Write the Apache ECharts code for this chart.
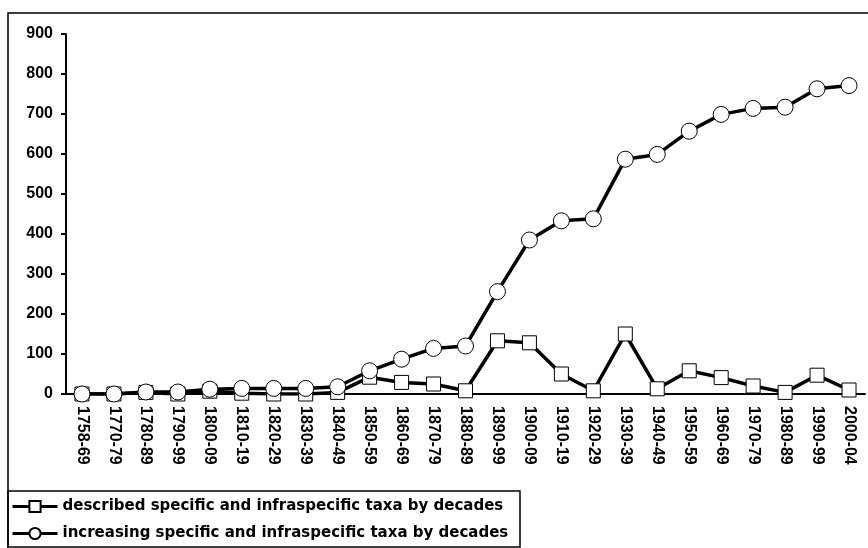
<!DOCTYPE html>
<html>
<head>
<meta charset="utf-8">
<script src="https://cdn.jsdelivr.net/npm/echarts@6/dist/echarts.min.js"></script>
<style>
    html, body { margin: 0; padding: 0; background: #fff; }
    #chart { width: 868px; height: 548px; }
</style>
</head>
<body>
<div id="chart"></div>
<script>
const decades = ['1758-69', '1770-79', '1780-89', '1790-99', '1800-09', '1810-19', '1820-29', '1830-39', '1840-49',
    '1850-59', '1860-69', '1870-79', '1880-89', '1890-99', '1900-09', '1910-19', '1920-29', '1930-39',
    '1940-49', '1950-59', '1960-69', '1970-79', '1980-89', '1990-99', '2000-04']

const described = [0, 0, 4, 0, 7, 2, 0, 0, 4, 42, 29, 25, 8, 133, 128, 50, 8, 150, 13, 58, 41, 20, 4, 47, 10]
const increasing = [0, 0, 5, 5, 12, 14, 14, 14, 18, 58, 87, 114, 120, 256, 385, 433, 438, 587, 599, 657, 699, 714, 717, 763, 771]

const seriesNames = [
    'described specific and infraspecific taxa by decades',
    'increasing specific and infraspecific taxa by decades'
]

const font = 'Liberation Sans, Arial, sans-serif'

let chart = echarts.init(document.getElementById('chart'))

function lineSeries(name, data, symbol, size) {
    return {
        name: name,
        type: 'line',
        data: data,
        symbol: symbol,
        symbolSize: size,
        showAllSymbol: true,
        lineStyle: { color: '#000', width: 3.5 },
        itemStyle: { color: '#fff', borderColor: '#000', borderWidth: 1 },
        emphasis: { disabled: true },
        animation: false
    }
}

let chartOpt = {
    backgroundColor: '#fff',
    graphic: [
        {
            type: 'rect',
            shape: { x: 8, y: 13, width: 900, height: 600 },
            style: { fill: 'none', stroke: '#000', lineWidth: 1.5 },
            silent: true
        },
        {
            type: 'rect',
            shape: { x: 8, y: 491, width: 512, height: 56 },
            style: { fill: 'none', stroke: '#000', lineWidth: 1.5 },
            silent: true
        }
    ],
    grid: {
        left: 66,
        right: 3,
        top: 34,
        bottom: 154
    },
    legend: {
        orient: 'vertical',
        left: 11,
        top: 499,
        padding: 0,
        itemWidth: 45,
        itemHeight: 14,
        itemGap: 12,
        data: seriesNames,
        lineStyle: { width: 3 },
        textStyle: {
            fontFamily: 'DejaVu Sans, sans-serif',
            fontWeight: 'bold',
            fontSize: 15,
            color: '#000'
        }
    },
    xAxis: {
        type: 'category',
        data: decades,
        boundaryGap: true,
        axisLine: { lineStyle: { color: '#000', width: 2 } },
        axisTick: { inside: false, length: 5, lineStyle: { color: '#000', width: 2 } },
        axisLabel: {
            rotate: -90,
            interval: 0,
            margin: 12,
            fontFamily: font,
            fontWeight: 'bold',
            fontSize: 16,
            color: '#000'
        }
    },
    yAxis: {
        type: 'value',
        min: 0,
        max: 900,
        interval: 100,
        axisLine: { show: true, lineStyle: { color: '#000', width: 2 } },
        axisTick: { show: true, length: 5, lineStyle: { color: '#000', width: 2 } },
        splitLine: { show: false },
        axisLabel: {
            margin: 13,
            fontFamily: font,
            fontWeight: 'bold',
            fontSize: 16,
            color: '#000'
        }
    },
    series: [
        lineSeries(seriesNames[0], described, 'rect', 14),
        lineSeries(seriesNames[1], increasing, 'circle', 16)
    ]
}

chart.setOption(chartOpt)
</script>
</body>
</html>
